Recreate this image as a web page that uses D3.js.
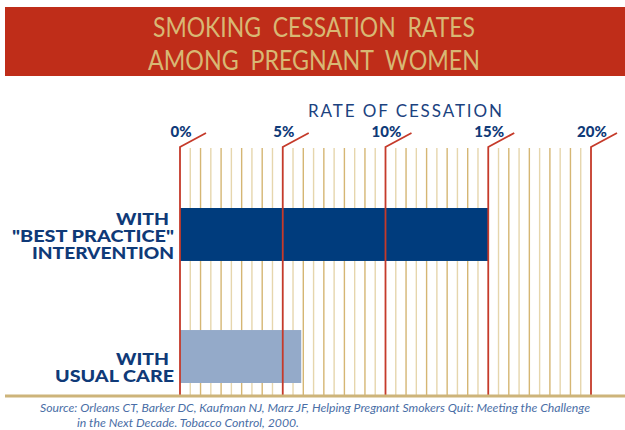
<!DOCTYPE html>
<html><head><meta charset="utf-8">
<script src="https://cdn.jsdelivr.net/npm/d3@7/dist/d3.min.js"></script>
<style>body{margin:0;background:#fff}svg{display:block}</style>
</head><body>
<svg id="c" width="625" height="430"></svg>
<script>
const titleLines = ["SMOKING  CESSATION  RATES", "AMONG  PREGNANT  WOMEN"];
const axisTitle = "RATE OF CESSATION";
const categories = [["WITH", "\"BEST PRACTICE\"", "INTERVENTION"], ["WITH", "USUAL CARE"]];
const values = [15, 5.9];
const barColors = ["#003c7d", "#94aac9"];
const tickValues = [0, 5, 10, 15, 20];
const tickLabels = ["0%", "5%", "10%", "15%", "20%"];
const minorStep = 0.5;
const sourceLines = ["Source: Orleans CT, Barker DC, Kaufman NJ, Marz JF, Helping Pregnant Smokers Quit: Meeting the Challenge",
                     "in the Next Decade. Tobacco Control, 2000."];

const labelWidths = {"WITH": 53, "\"BEST PRACTICE\"": 162, "INTERVENTION": 142, "USUAL CARE": 119};

const svg = d3.select("#c");
const x = d3.scaleLinear().domain([0, 20]).range([180, 591]);
const y = d3.scaleBand().domain([0, 1]).range([208, 383]).paddingInner(0.566).paddingOuter(0);
const gridTop = 147, gridBottom = 395;

// banner
svg.append("rect").attr("x", 5).attr("y", 7).attr("width", 620).attr("height", 69).attr("fill", "#bf2d19");
svg.selectAll("text.title").data(titleLines).enter().append("text")
  .attr("x", 314).attr("y", (d, i) => 37 + i * 33)
  .attr("text-anchor", "middle")
  .attr("font-family", "Lato, 'Open Sans', sans-serif").attr("font-size", 27)
  .attr("fill", "#d8b874")
  .attr("textLength", (d, i) => i === 0 ? 322 : 332).attr("lengthAdjust", "spacingAndGlyphs")
  .style("white-space", "pre")
  .text(d => d);

// axis title
svg.append("text").attr("x", 405).attr("y", 117).attr("text-anchor", "middle")
  .attr("font-family", "Lato, 'Open Sans', sans-serif").attr("font-size", 17)
  .attr("fill", "#1b427f").attr("textLength", 194).attr("lengthAdjust", "spacing")
  .text(axisTitle);

// minor gridlines
const minor = d3.range(0, 20 + 1e-9, minorStep).filter(v => Math.abs(v % 5) > 1e-9);
svg.append("g").selectAll("line").data(minor).enter().append("line")
  .attr("x1", d => x(d)).attr("x2", d => x(d))
  .attr("y1", gridTop + 1).attr("y2", gridBottom)
  .attr("stroke", d => Math.abs(d % 1) < 1e-9 ? "#d5b673" : "#e6d6ad")
  .attr("stroke-width", 1.4);

// bars
svg.append("g").selectAll("rect").data(values).enter().append("rect")
  .attr("x", x(0)).attr("y", (d, i) => y(i))
  .attr("width", d => x(d) - x(0)).attr("height", y.bandwidth())
  .attr("fill", (d, i) => barColors[i]);

// major red lines with diagonal tops
svg.append("g").selectAll("path").data(tickValues).enter().append("path")
  .attr("d", d => `M${x(d)},${gridBottom} L${x(d)},${gridTop} L${x(d) + 26},${gridTop - 14}`)
  .attr("fill", "none").attr("stroke", "#c53a2a").attr("stroke-width", 1.8);

// tick labels
svg.append("g").selectAll("text").data(tickValues).enter().append("text")
  .attr("x", d => x(d) + 1).attr("y", 137).attr("text-anchor", "middle")
  .attr("font-family", "Lato, 'Open Sans', sans-serif").attr("font-weight", 900).attr("font-size", 15)
  .attr("fill", "#0f3a78").text((d, i) => tickLabels[i]);

// baseline
svg.append("line").attr("x1", 5).attr("x2", 625).attr("y1", gridBottom + 1).attr("y2", gridBottom + 1)
  .attr("stroke", "#cdb47a").attr("stroke-width", 3);

// category labels
categories.forEach((lines, i) => {
  const bottom = y(i) + y.bandwidth() - 1.5;
  const n = lines.length;
  lines.forEach((t, j) => {
    const right = t === "WITH" ? 169 : 174;
    svg.append("text").attr("x", right - labelWidths[t])
      .attr("y", bottom - (n - 1 - j) * 17)
      .attr("font-family", "Lato, 'Open Sans', sans-serif").attr("font-weight", 900).attr("font-size", 16.5)
      .attr("textLength", labelWidths[t]).attr("lengthAdjust", "spacingAndGlyphs")
      .attr("fill", "#0f3a78").text(t);
  });
});

// source
svg.selectAll("text.src").data(sourceLines).enter().append("text")
  .attr("x", (d, i) => i === 0 ? 40 : 77).attr("y", (d, i) => 412 + i * 15)
  .attr("font-family", "Lato, 'Open Sans', sans-serif").attr("font-style", "italic").attr("font-size", 12)
  .attr("fill", "#4a6ea6")
  .attr("textLength", (d, i) => i === 0 ? 550 : 222).attr("lengthAdjust", "spacingAndGlyphs")
  .text(d => d);
</script>
</body></html>
